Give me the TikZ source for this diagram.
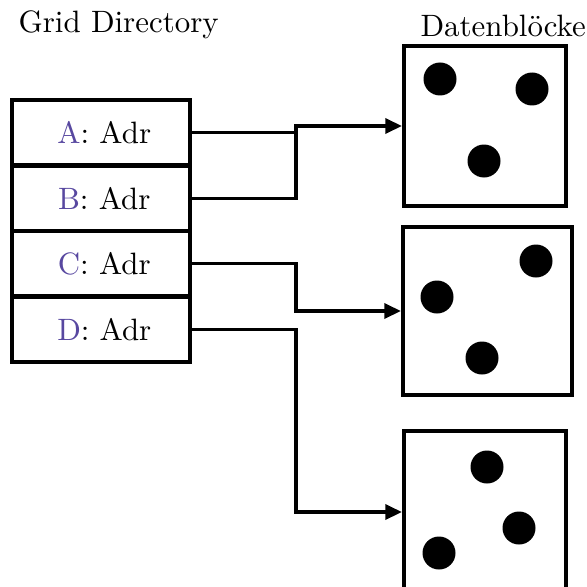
\documentclass[tikz,border=0pt]{standalone}
\usepackage{fontspec}
\usetikzlibrary{arrows.meta}
\newlength\pxu
\setlength\pxu{0.33333pt}
\definecolor{lblcol}{RGB}{88,72,160}
\tikzset{
  cell/.style={draw, line width=4.3\pxu, minimum width=178\pxu, minimum height=65.5\pxu, inner sep=0pt, anchor=center},
  blk/.style={draw, line width=4.3\pxu, inner sep=0pt},
  conn/.style={line width=3.4\pxu},
  arr/.style={conn, -{Triangle[length=5.5pt,width=5pt]}},
  title/.style={anchor=base west, inner sep=0pt}
}
\begin{document}
\begin{tikzpicture}[x=0.33333pt, y=-0.33333pt, font=\fontsize{10.3}{12.4}\selectfont]
\useasboundingbox (0,0) rectangle (587,586);
\node[title] (t1) at (18,33) {Grid Directory};
\node[title] (t2) at (420,37) {Datenblöcke};
% directory cells
\node[cell] (A) at (101,132.75) {\hspace*{2.2pt}\textcolor{lblcol}{A}: Adr};
\node[cell] (B) at (101,198.25) {\hspace*{2.2pt}\textcolor{lblcol}{B}: Adr};
\node[cell] (C) at (101,263.75) {\hspace*{2.2pt}\textcolor{lblcol}{C}: Adr};
\node[cell] (D) at (101,329.25) {\hspace*{2.2pt}\textcolor{lblcol}{D}: Adr};
% data blocks
\node[blk, minimum width=162\pxu, minimum height=160\pxu] (b1) at (485,126) {};
\node[blk, minimum width=169\pxu, minimum height=168\pxu] (b2) at (487.5,311) {};
\node[blk, minimum width=162\pxu, minimum height=162\pxu] (b3) at (485,512) {};
% dots
\fill (440,79) circle[radius=16.5];
\fill (532,89) circle[radius=16.5];
\fill (484,161) circle[radius=16.5];
\fill (536,261) circle[radius=16.5];
\fill (437,297) circle[radius=16.5];
\fill (482,358) circle[radius=16.5];
\fill (487,467) circle[radius=16.5];
\fill (519,528) circle[radius=16.5];
\fill (439,553) circle[radius=16.5];
% junctions
\coordinate (j1) at (296,126);
\coordinate (j2) at (296,311);
\coordinate (j3) at (296,512);
% connectors
\draw[conn] (B.east) -| (j1);
\draw[arr] (A.east) -| (j1) -- (b1.west);
\draw[arr] (C.east) -| (j2) -- (b2.west);
\draw[arr] (D.east) -| (j3) -- (b3.west);
\end{tikzpicture}
\end{document}
